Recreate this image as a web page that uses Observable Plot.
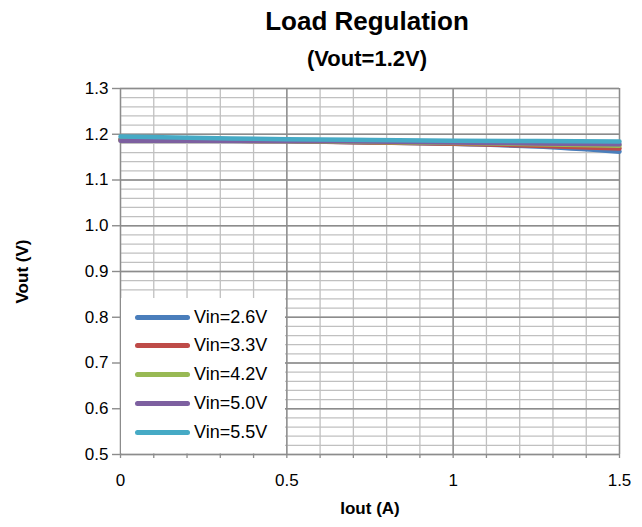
<!DOCTYPE html>
<html>
<head>
<meta charset="utf-8">
<script src="https://cdn.jsdelivr.net/npm/d3@7"></script>
<script src="https://cdn.jsdelivr.net/npm/@observablehq/plot@0.6"></script>
<style>
  html, body { margin: 0; padding: 0; background: #fff; }
  body { width: 642px; height: 527px; overflow: hidden; font-family: "Liberation Sans", Arial, sans-serif; }
  #wrap { position: relative; width: 642px; }
  #title { height: 42px; text-align: center; font-weight: bold; font-size: 26px; line-height: 42px; padding-left: 92px; box-sizing: border-box; }
  #subtitle { height: 33px; text-align: center; font-weight: bold; font-size: 22px; line-height: 33px; padding-left: 92px; box-sizing: border-box; }
  #legend { position: absolute; left: 121px; top: 298px; width: 164px; height: 155px; background: #fff; }
  .item { position: absolute; left: 14px; height: 20px; display: flex; align-items: center; font-size: 18px; color: #000; }
  .sw { width: 55px; height: 5px; border-radius: 3px; margin-right: 4px; }
</style>
</head>
<body>
<div id="wrap">
  <div id="title">Load Regulation</div>
  <div id="subtitle">(Vout=1.2V)</div>
  <div id="chart"></div>
  <div id="legend"></div>
</div>
<script>
// Data
const iout = [0, 0.25, 0.5, 0.75, 1.0, 1.25, 1.5];
const vin26 = [1.189, 1.187, 1.185, 1.182, 1.179, 1.173, 1.162];
const vin33 = [1.188, 1.186, 1.185, 1.182, 1.179, 1.175, 1.169];
const vin42 = [1.187, 1.186, 1.185, 1.183, 1.181, 1.178, 1.175];
const vin50 = [1.186, 1.186, 1.185, 1.184, 1.182, 1.180, 1.178];
const vin55 = [1.195, 1.192, 1.189, 1.1875, 1.186, 1.185, 1.184];
const seriesNames = ["Vin=2.6V", "Vin=3.3V", "Vin=4.2V", "Vin=5.0V", "Vin=5.5V"];
const seriesColors = ["#4a7ebb", "#be4b48", "#98b954", "#7d60a0", "#46aac5"];
const xTicks = [0, 0.5, 1, 1.5];
const yTicks = [0.5, 0.6, 0.7, 0.8, 0.9, 1.0, 1.1, 1.2, 1.3];

const seriesValues = [vin26, vin33, vin42, vin50, vin55];
const rows = [];
seriesValues.forEach((vals, si) => vals.forEach((v, i) => rows.push({s: seriesNames[si], x: iout[i], y: v})));

const xMinor = d3.range(0, 1.5001, 0.1);
const yMinor = d3.range(0.5, 1.3001, 0.02);

const chart = Plot.plot({
  width: 642,
  height: 452,
  marginLeft: 120,
  marginRight: 23,
  marginTop: 13,
  marginBottom: 73,
  style: {fontFamily: "'Liberation Sans', Arial, sans-serif", fontSize: "17px", color: "#000", background: "#fff"},
  x: {type: "linear", domain: [0, 1.5]},
  y: {type: "linear", domain: [0.5, 1.3]},
  color: {domain: seriesNames, range: seriesColors},
  marks: [
    Plot.ruleX(xMinor, {stroke: "#c0c0c0", strokeWidth: 1.3}),
    Plot.ruleY(yMinor, {stroke: "#c0c0c0", strokeWidth: 1.3}),
    Plot.ruleX(xTicks, {stroke: "#8c8c8c", strokeWidth: 1.4}),
    Plot.ruleY(yTicks, {stroke: "#8c8c8c", strokeWidth: 1.4}),
    Plot.axisX(xMinor, {tickFormat: () => "", tickSize: 4, stroke: "#8c8c8c", strokeWidth: 1.3, label: null}),
    Plot.axisY(yTicks, {tickFormat: d3.format(".1f"), tickSize: 8, tickPadding: 4, stroke: "#8c8c8c", strokeWidth: 1.4, fontSize: 17, label: null}),
    Plot.axisX(xTicks, {tickFormat: d => String(d), tickSize: 0, tickPadding: 19, fontSize: 17, label: null}),
    Plot.line(rows, {x: "x", y: "y", stroke: "s", z: "s", strokeWidth: 4.5, curve: "monotone-x"}),
    Plot.text(["Vout (V)"], {frameAnchor: "left", dx: -98, rotate: -90, textAnchor: "middle", fontWeight: "bold", fontSize: 17}),
    Plot.text(["Iout (A)"], {frameAnchor: "bottom", dy: 59, fontWeight: "bold", fontSize: 17})
  ]
});
document.getElementById("chart").appendChild(chart);

const legend = document.getElementById("legend");
seriesNames.forEach((n, i) => {
  const it = document.createElement("div");
  it.className = "item";
  it.style.top = (9 + i * 28.8) + "px";
  const sw = document.createElement("div");
  sw.className = "sw";
  sw.style.background = seriesColors[i];
  it.appendChild(sw);
  const t = document.createElement("span");
  t.textContent = n;
  it.appendChild(t);
  legend.appendChild(it);
});
</script>
</body>
</html>
